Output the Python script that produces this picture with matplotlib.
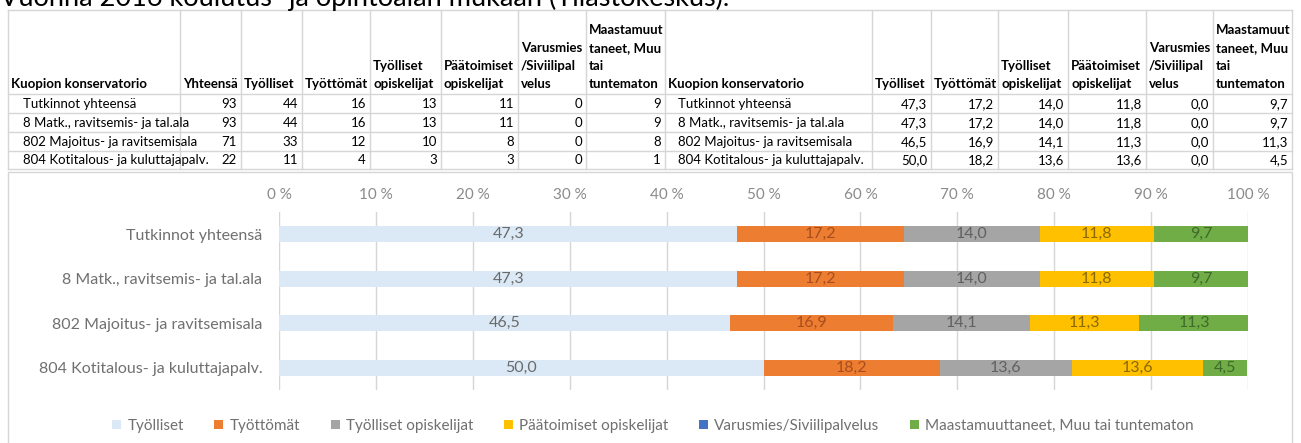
import matplotlib.pyplot as plt
from matplotlib.patches import Rectangle
import numpy as np

plt.rcParams['font.family'] = ['Lato', 'DejaVu Sans']

# data
title = 'Vuonna 2016 koulutus- ja opintoalan mukaan (Tilastokeskus).'
row_names = ['Tutkinnot yhteensä', '8 Matk., ravitsemis- ja tal.ala',
             '802 Majoitus- ja ravitsemisala', '804 Kotitalous- ja kuluttajapalv.']
count_headers = ['Yhteensä', 'Työlliset', 'Työttömät', 'Työlliset\nopiskelijat',
                 'Päätoimiset\nopiskelijat', 'Varusmies\n/Siviilipal\nvelus',
                 'Maastamuut\ntaneet, Muu\ntai\ntuntematon']
pct_headers = count_headers[1:]

yhteensa_n = [93, 93, 71, 22]
tyolliset_n = [44, 44, 33, 11]
tyottomat_n = [16, 16, 12, 4]
tyol_opisk_n = [13, 13, 10, 3]
paatoim_n = [11, 11, 8, 3]
varusmies_n = [0, 0, 0, 0]
muu_n = [9, 9, 8, 1]

tyolliset = [47.3, 47.3, 46.5, 50.0]
tyottomat = [17.2, 17.2, 16.9, 18.2]
tyol_opisk = [14.0, 14.0, 14.1, 13.6]
paatoim = [11.8, 11.8, 11.3, 13.6]
varusmies = [0.0, 0.0, 0.0, 0.0]
muu = [9.7, 9.7, 11.3, 4.5]

series_names = ['Työlliset', 'Työttömät', 'Työlliset opiskelijat', 'Päätoimiset opiskelijat',
                'Varusmies/Siviilipalvelus', 'Maastamuuttaneet, Muu tai tuntematon']
xticks = [0, 10, 20, 30, 40, 50, 60, 70, 80, 90, 100]

# colors
bar_colors = ['#dbe9f6', '#ed7d31', '#a5a5a5', '#ffc000', '#4472c4', '#70ad47']
label_colors = ['#6a6a6a', '#a84e1e', '#606060', '#8a6a00', '#2f4f8a', '#3f6a2a']
grid = '#d6d6d6'
chart_text = '#707070'

W, H = 1301, 443
fig = plt.figure(figsize=(W / 100, H / 100), dpi=100)
bg = fig.add_axes([0, 0, 1, 1])
bg.set_xlim(0, W)
bg.set_ylim(H, 0)
bg.axis('off')

# clipped title at the very top
fig.text(0.0, 1 - 6 / H, title, fontsize=19.5, va='baseline', ha='left', color='black')

# table grid
col_x = [8, 180, 241, 302, 370, 441, 518, 586, 665, 872, 931, 998, 1068, 1146, 1213, 1292]
row_y = [10, 94, 113, 132, 151, 169]
for y in row_y:
    bg.plot([col_x[0], col_x[-1]], [y, y], color=grid, lw=1)
for x in col_x:
    bg.plot([x, x], [row_y[0], row_y[-1]], color=grid, lw=1)

# headers
headers = ['Kuopion konservatorio'] + count_headers + ['Kuopion konservatorio'] + pct_headers
for i, h in enumerate(headers):
    lines = h.split('\n')
    for k, line in enumerate(reversed(lines)):
        bg.text(col_x[i] + 3, 88 - 18 * k, line, fontsize=9.5, fontweight='bold',
                va='baseline', ha='left')

counts = [yhteensa_n, tyolliset_n, tyottomat_n, tyol_opisk_n, paatoim_n, varusmies_n, muu_n]
pcts = [tyolliset, tyottomat, tyol_opisk, paatoim, varusmies, muu]

def fmt(v):
    return f'{v:.1f}'.replace('.', ',')

for r, name in enumerate(row_names):
    base = row_y[r + 2] - 5
    t = bg.text(col_x[0] + 15, base, name, fontsize=9.5, va='baseline', ha='left')
    t.set_clip_path(Rectangle((col_x[0], row_y[r + 1]), col_x[1] - col_x[0], 19,
                              transform=bg.transData))
    bg.text(col_x[8] + 13, base, name, fontsize=9.5, va='baseline', ha='left')
    for j, col in enumerate(counts):
        bg.text(col_x[j + 2] - 4, base, str(col[r]), fontsize=9.5, va='baseline', ha='right')
    for j, col in enumerate(pcts):
        bg.text(col_x[j + 10] - 4, base, fmt(col[r]), fontsize=9.5, va='baseline', ha='right')

# chart box
bg.add_patch(Rectangle((8, 172), 1284, 290, facecolor='white', edgecolor=grid, lw=1))

# bar chart
x0, x1, y0, y1 = 279, 1248, 212, 390
ax = fig.add_axes([x0 / W, 1 - y1 / H, (x1 - x0) / W, (y1 - y0) / H])
ax.set_facecolor('none')
y = np.arange(len(row_names))
left = np.zeros(len(row_names))
for s, vals in enumerate(pcts):
    vals = np.array(vals)
    ax.barh(y, vals, left=left, height=0.36, color=bar_colors[s], label=series_names[s], zorder=2)
    for i, v in enumerate(vals):
        if v > 0:
            ax.text(left[i] + v / 2, y[i], fmt(v), ha='center', va='center',
                    fontsize=11.5, color=label_colors[s], zorder=3)
    left += vals

ax.set_xlim(0, 100)
ax.set_ylim(len(row_names) - 0.5, -0.5)
ax.set_xticks(xticks)
ax.set_xticklabels([f'{t} %' for t in xticks])
ax.xaxis.tick_top()
ax.set_yticks(y)
ax.set_yticklabels(row_names)
ax.tick_params(axis='x', length=0, pad=7, labelsize=11, labelcolor='#8a8a8a')
ax.tick_params(axis='y', length=0, pad=12, labelsize=11.5, labelcolor=chart_text)
ax.grid(axis='x', color=grid, lw=1, zorder=0)
for sp in ax.spines.values():
    sp.set_visible(False)

fig.legend(loc='center', bbox_to_anchor=(653 / W, 1 - 426 / H), ncol=6, frameon=False,
           handlelength=0.6, handleheight=0.6, handletextpad=0.4, columnspacing=2.0,
           fontsize=11, labelcolor=chart_text)

fig.savefig('out.png', dpi=100)
